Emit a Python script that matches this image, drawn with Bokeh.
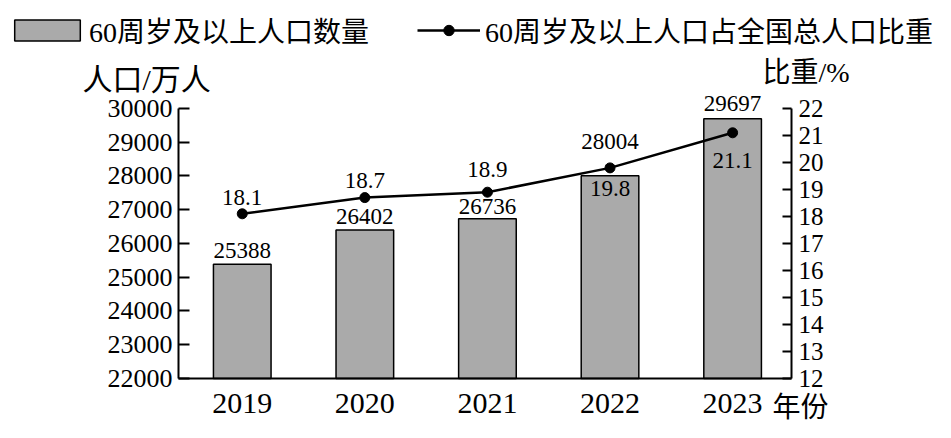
from bokeh.core.properties import value
from bokeh.embed import file_html
from bokeh.models import (ColumnDataSource, FixedTicker, Label, Legend, LegendItem,
                          LinearAxis, Range1d)
from bokeh.plotting import figure
from bokeh.resources import INLINE

# ---------- data ----------
years = ["2019", "2020", "2021", "2022", "2023"]
pop_60 = [25388, 26402, 26736, 28004, 29697]      # 万人
share_60 = [18.1, 18.7, 18.9, 19.8, 21.1]         # %
left_ticks = [22000, 23000, 24000, 25000, 26000, 27000, 28000, 29000, 30000]
right_ticks = [12, 13, 14, 15, 16, 17, 18, 19, 20, 21, 22]

# label nudges in px, positive = up
pop_nudge = [14, 13, 12, 34, 15]
share_nudge = [16, 17, 23, -21, -28]

FONT = "'Liberation Serif', 'Noto Sans CJK SC'"
GRAY = "#aaaaaa"

pos = list(range(len(years)))
X0, X1 = -0.52, len(years) - 0.52          # where the value axes sit
src = ColumnDataSource(dict(
    x=pos, pop=pop_60, share=share_60,
    pop_txt=[str(v) for v in pop_60],
    share_txt=[str(v) for v in share_60],
    pop_off=[-n for n in pop_nudge],
    share_off=[-n for n in share_nudge],
))

# the frame fills the whole canvas, the axes are pinned inside it
p = figure(
    width=935, height=422,
    x_range=Range1d(-1.972, 5.655), y_range=Range1d(20696, 33200),
    output_backend="svg", toolbar_location=None,
    min_border=0,
)
p.extra_y_ranges = {"ratio": Range1d(10.37, 26.0)}
p.outline_line_color = None
p.xgrid.visible = False
p.ygrid.visible = False

bars = p.vbar(x="x", top="pop", bottom=left_ticks[0], width=0.47, source=src,
              fill_color=GRAY, line_color="black", line_width=1.5)
line = p.line("x", "share", source=src, y_range_name="ratio",
              line_color="black", line_width=2.5)
dots = p.scatter("x", "share", source=src, y_range_name="ratio",
                 size=10, color="black")

p.text("x", "pop", text="pop_txt", source=src, y_offset="pop_off",
       text_align="center", text_baseline="alphabetic",
       text_font=value(FONT), text_font_size="23px", text_color="black")
p.text("x", "share", text="share_txt", source=src, y_offset="share_off",
       y_range_name="ratio",
       text_align="center", text_baseline="alphabetic",
       text_font=value(FONT), text_font_size="23px", text_color="black")

# ---------- axes ----------
xa = p.xaxis[0]
xa.fixed_location = left_ticks[0]
xa.bounds = (X0, X1)
xa.ticker = FixedTicker(ticks=pos)
xa.major_label_overrides = {i: y for i, y in enumerate(years)}
xa.minor_tick_line_color = None
xa.major_label_standoff = 10
xa.major_label_text_font_size = "30px"

ya = p.yaxis[0]
ya.fixed_location = X0
ya.bounds = (left_ticks[0], left_ticks[-1])
ya.ticker = FixedTicker(ticks=left_ticks)
ya.major_tick_in = 11
ya.major_tick_out = 0
ya.minor_tick_line_color = None
ya.major_label_standoff = 6
ya.major_label_text_font_size = "26px"

ra = LinearAxis(y_range_name="ratio", ticker=FixedTicker(ticks=right_ticks),
                fixed_location=X1, bounds=(right_ticks[0], right_ticks[-1]))
ra.major_tick_in = 9
ra.major_tick_out = 0
ra.minor_tick_line_color = None
ra.major_label_standoff = 7
ra.major_label_text_font_size = "25px"
p.add_layout(ra, "right")

for ax in (xa, ya, ra):
    ax.axis_line_width = 2
    ax.axis_line_color = "black"
    ax.major_tick_line_width = 2
    ax.major_label_text_font = FONT
    ax.major_label_text_color = "black"
xa.major_tick_line_color = None


# ---------- legend (two boxes so each key gets its own width) ----------
def key(label, rends, loc, gw, standoff):
    return Legend(items=[LegendItem(label=label, renderers=rends)], location=loc,
                  padding=0, margin=0, border_line_color=None,
                  background_fill_alpha=0, glyph_width=gw, glyph_height=26,
                  label_standoff=standoff, label_text_font=FONT,
                  label_text_font_size="28px", label_text_color="black")


p.add_layout(key("60周岁及以上人口数量", [bars], (6, 372), 82, 1))
p.add_layout(key("60周岁及以上人口占全国总人口比重", [line, dots], (417, 372), 63, 5))

# ---------- axis titles ----------
for txt, x, y, size in [("人口/万人", 82, 343, "30px"),
                        ("比重/%", 762, 350, "28px"),
                        ("年份", 772, 15, "28px")]:
    p.add_layout(Label(x=x, y=y, x_units="screen", y_units="screen", text=txt,
                       text_font=FONT, text_font_size=size, text_color="black",
                       text_align="left", text_baseline="middle"))

open("out.html", "w").write(file_html(p, INLINE))
